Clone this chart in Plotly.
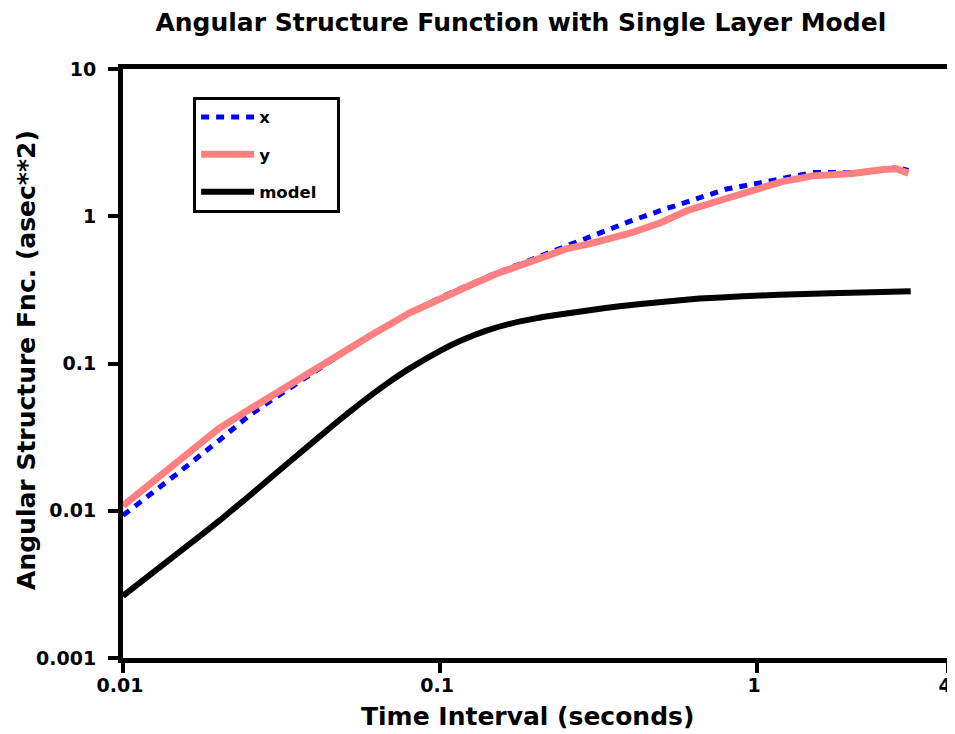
import plotly.graph_objects as go

# time intervals (seconds) for measured series
t = [0.01, 0.0125, 0.015, 0.02, 0.025, 0.03, 0.04, 0.05, 0.06, 0.08, 0.1, 0.12, 0.15,
     0.2, 0.25, 0.3, 0.4, 0.5, 0.6, 0.8, 1.0, 1.2, 1.5, 2.0, 2.5, 2.75, 3.0]

x_vals = [0.0093, 0.0134, 0.0182, 0.0298, 0.0443, 0.058, 0.0885, 0.12, 0.153, 0.22, 0.28,
          0.33, 0.41, 0.52, 0.63, 0.74, 0.93, 1.10, 1.25, 1.53, 1.67, 1.80, 1.98, 1.98,
          2.05, 2.14, 2.05]

y_vals = [0.0108, 0.016, 0.0219, 0.036, 0.0487, 0.062, 0.092, 0.122, 0.154, 0.22, 0.277,
          0.328, 0.405, 0.512, 0.60, 0.654, 0.77, 0.91, 1.09, 1.32, 1.52, 1.72, 1.88, 1.95,
          2.08, 2.1, 1.96]

# model curve
t_model = [0.01, 0.0155, 0.02, 0.025, 0.035, 0.047, 0.056, 0.068, 0.08, 0.1, 0.116, 0.14,
           0.166, 0.2, 0.238, 0.3, 0.368, 0.5, 0.658, 0.9, 1.17, 1.7, 2.3, 3.05]
model_vals = [0.00264, 0.0055, 0.00846, 0.0126, 0.02325, 0.0396, 0.0535, 0.073, 0.0923,
              0.122, 0.1427, 0.1674, 0.186, 0.2025, 0.215, 0.231, 0.245, 0.262, 0.276,
              0.286, 0.293, 0.300, 0.305, 0.309]

x_ticks = [0.01, 0.1, 1, 4]
x_tick_labels = ["0.01", "0.1", "1", "4"]
y_ticks = [0.001, 0.01, 0.1, 1, 10]
y_tick_labels = ["0.001", "0.01", "0.1", "1", "10"]

FONT = "DejaVu Sans, Arial, sans-serif"

fig = go.Figure()
fig.add_trace(go.Scatter(x=t, y=x_vals, mode="lines", name="<b>x</b>", legendgroup="a",
                         line=dict(color="#0000FF", width=5, dash="8px,7px")))
fig.add_trace(go.Scatter(x=t, y=y_vals, mode="lines", name="<b>y</b>", legendgroup="b",
                         line=dict(color="#FF8080", width=7)))
fig.add_trace(go.Scatter(x=t_model, y=model_vals, mode="lines",
                         name="<b>model</b>&nbsp;&nbsp;&nbsp;", legendgroup="c",
                         line=dict(color="#000000", width=6, shape="spline", smoothing=0.4)))

axis_common = dict(
    showgrid=False, zeroline=False, showline=True, linecolor="black", linewidth=5,
    mirror=True, ticks="outside", ticklen=10, tickwidth=4, tickcolor="black",
    tickfont=dict(family=FONT, size=19, color="black"), automargin=False,
)

fig.update_xaxes(type="log", range=[-2, 0.60206], tickvals=x_ticks,
                 ticktext=[f"<b>{s}</b>" for s in x_tick_labels],
                 ticklabelshift=-3, ticklabelstandoff=-4,
                 **axis_common)
fig.update_yaxes(type="log", range=[-3, 1], tickvals=y_ticks,
                 ticktext=[f"<b>{s}</b>" for s in y_tick_labels],
                 ticklabelstandoff=8,
                 **axis_common)

fig.update_layout(
    width=955, height=734,
    margin=dict(l=115, r=15, t=61, b=84),
    paper_bgcolor="white", plot_bgcolor="white",
    title=dict(text="<b>Angular Structure Function with Single Layer Model</b>",
               font=dict(family=FONT, size=25, color="black"),
               x=0.537, xanchor="center", xref="container", y=0.981, yanchor="middle"),
    legend=dict(x=0.085, y=0.953, xanchor="left", yanchor="top",
                bordercolor="black", borderwidth=3, bgcolor="white",
                font=dict(family=FONT, size=16.5, color="black"),
                tracegroupgap=13, itemwidth=53),
    showlegend=True,
    annotations=[
        dict(text="<b>Time Interval (seconds)</b>", xref="paper", yref="paper",
             x=0.4897, y=-0.0985, xanchor="center", yanchor="middle", showarrow=False,
             font=dict(family=FONT, size=25, color="black")),
        dict(text="<b>Angular Structure Fnc. (asec**2)</b>", xref="paper", yref="paper",
             x=-0.1164, y=0.506, xanchor="center", yanchor="middle", showarrow=False,
             textangle=-90, font=dict(family=FONT, size=25, color="black")),
    ],
)

fig.write_html("out.html")
